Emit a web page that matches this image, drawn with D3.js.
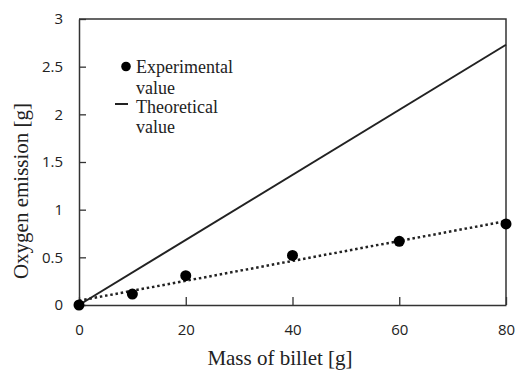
<!DOCTYPE html>
<html><head><meta charset="utf-8">
<script src="https://cdn.jsdelivr.net/npm/d3@7"></script>
<style>body{margin:0;background:#fff}svg{display:block}</style>
</head><body>
<svg id="c" width="516" height="370"></svg>
<script>
// Data
const massExp = [0, 10, 20, 40, 60, 80];
const oxygenExp = [0, 0.115, 0.307, 0.52, 0.668, 0.85];
const massTheo = [0, 80];
const oxygenTheo = [0, 2.73];
const massTrend = [0, 80];
const oxygenTrend = [0.045, 0.88];
const xTicks = [0, 20, 40, 60, 80];
const yTicks = [0, 0.5, 1, 1.5, 2, 2.5, 3];
const yTickLabels = ["0", "0.5", "1", "1.5", "2", "2.5", "3"];
const legendLabels = [["Experimental", "value"], ["Theoretical", "value"]];

const svg = d3.select("#c");
const m = {l: 79, r: 10, t: 19, b: 65};
const W = 516, H = 370;
const x = d3.scaleLinear().domain([0, 80]).range([m.l, W - m.r]);
const y = d3.scaleLinear().domain([0, 3]).range([H - m.b, m.t]);
const ink = "#222";
const tickFont = "'Open Sans', sans-serif";
const serif = "'Liberation Serif', 'Times New Roman', serif";

// frame (top/right)
svg.append("path")
  .attr("d", `M${x(0)},${y(3)}H${x(80)}V${y(0)}`)
  .attr("fill", "none").attr("stroke", "#333").attr("stroke-width", 1.5);

const ya = svg.append("g").attr("transform", `translate(${x(0)},0)`)
  .call(d3.axisLeft(y).tickValues(yTicks).tickFormat((d, i) => yTickLabels[i])
    .tickSizeInner(-7).tickSizeOuter(0).tickPadding(16));
const xa = svg.append("g").attr("transform", `translate(0,${y(0)})`)
  .call(d3.axisBottom(x).tickValues(xTicks).tickSizeInner(-8).tickSizeOuter(0).tickPadding(19));
[ya, xa].forEach(g => {
  g.select(".domain").attr("stroke", "#333").attr("stroke-width", 1.5);
  g.selectAll(".tick line").attr("stroke", "#333").attr("stroke-width", 1.3);
  g.selectAll("text").attr("font-family", tickFont).attr("font-size", 15).attr("fill", ink);
});

// theoretical line
const line = d3.line().x(d => x(d[0])).y(d => y(d[1]));
svg.append("path").datum(massTheo.map((v, i) => [v, oxygenTheo[i]]))
  .attr("d", line).attr("fill", "none").attr("stroke", ink).attr("stroke-width", 2);
// trend dotted
svg.append("path").datum(massTrend.map((v, i) => [v, oxygenTrend[i]]))
  .attr("d", line).attr("fill", "none").attr("stroke", ink).attr("stroke-width", 2.5)
  .attr("stroke-dasharray", "2.5,2.8");
// points
svg.append("g").selectAll("circle").data(massExp.map((v, i) => [v, oxygenExp[i]]))
  .join("circle").attr("cx", d => x(d[0])).attr("cy", d => y(d[1])).attr("r", 5.5).attr("fill", "#000");

// axis titles
svg.append("text").attr("x", 280).attr("y", 365).attr("text-anchor", "middle")
  .attr("font-family", serif).attr("font-size", 21).attr("fill", ink).text("Mass of billet [g]");
svg.append("text").attr("transform", "translate(28,191) rotate(-90)").attr("text-anchor", "middle")
  .attr("font-family", serif).attr("font-size", 21).attr("fill", ink).text("Oxygen emission [g]");

// legend
const lg = svg.append("g");
lg.append("circle").attr("cx", 126).attr("cy", 66.5).attr("r", 4.8).attr("fill", "#000");
lg.append("line").attr("x1", 115).attr("x2", 128).attr("y1", 104).attr("y2", 104)
  .attr("stroke", ink).attr("stroke-width", 2);
const baselines = [[72.5, 94], [113, 133]];
legendLabels.forEach((lines, i) => {
  lines.forEach((t, j) => {
    lg.append("text").attr("x", 136).attr("y", baselines[i][j])
      .attr("font-family", serif).attr("font-size", 18).attr("fill", ink).text(t);
  });
});
</script>
</body></html>
